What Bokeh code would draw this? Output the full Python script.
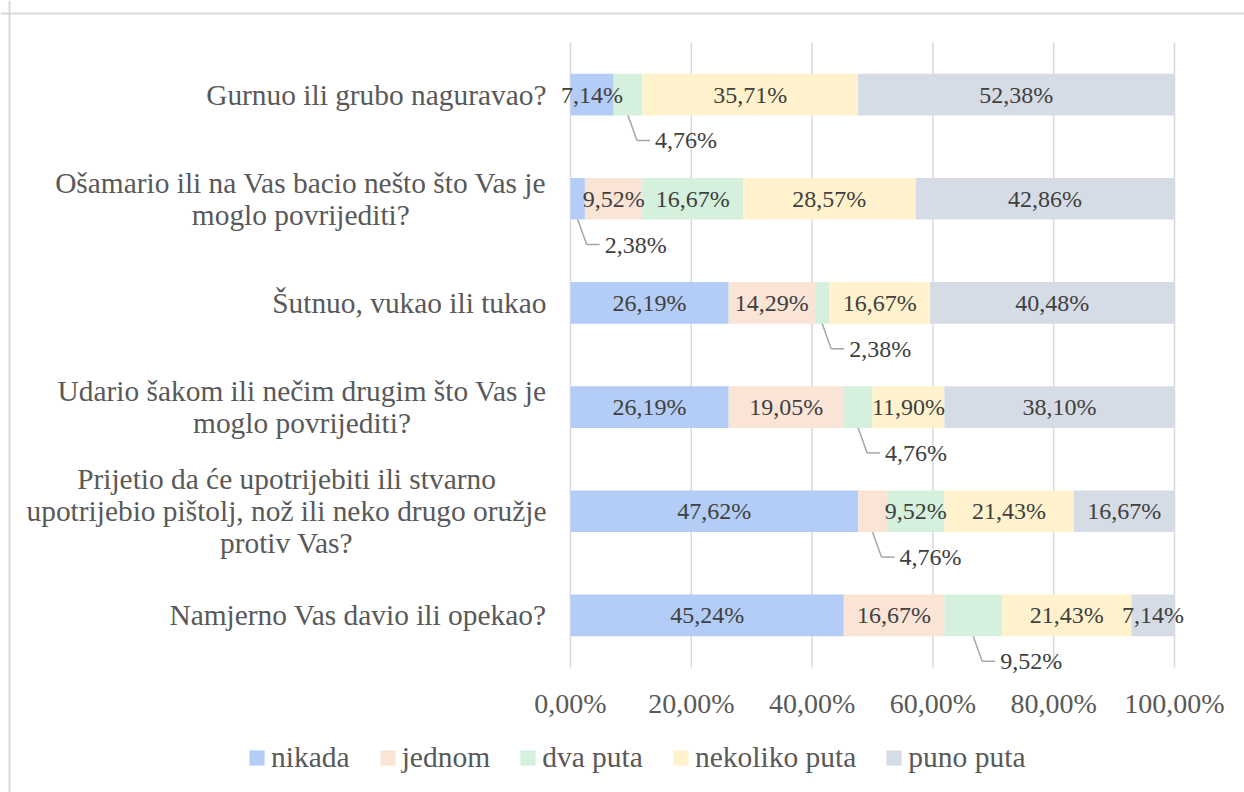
from bokeh.plotting import figure
from bokeh.models import Range1d, ColumnDataSource, Legend, LegendItem, Span
from bokeh.core.properties import value
from bokeh.embed import file_html
from bokeh.resources import INLINE

# ---------------- data ----------------
questions = [
    "Gurnuo ili grubo naguravao?",
    "Ošamario ili na Vas bacio nešto što Vas je\nmoglo povrijediti?",
    "Šutnuo, vukao ili tukao",
    "Udario šakom ili nečim drugim što Vas je\nmoglo povrijediti?",
    "Prijetio da će upotrijebiti ili stvarno\nupotrijebio pištolj, nož ili neko drugo oružje\nprotiv Vas?",
    "Namjerno Vas davio ili opekao?",
]
series = ["nikada", "jednom", "dva puta", "nekoliko puta", "puno puta"]
nikada = [7.14, 2.38, 26.19, 26.19, 47.62, 45.24]
jednom = [0.00, 9.52, 14.29, 19.05, 4.76, 16.67]
dva_puta = [4.76, 16.67, 2.38, 4.76, 9.52, 9.52]
nekoliko_puta = [35.71, 28.57, 16.67, 11.90, 21.43, 21.43]
puno_puta = [52.38, 42.86, 40.48, 38.10, 16.67, 7.14]
tick_values = [0, 20, 40, 60, 80, 100]
tick_labels = ["0,00%", "20,00%", "40,00%", "60,00%", "80,00%", "100,00%"]
# labels drawn outside the bar with a leader line: (question index, series)
callouts = [(0, "dva puta"), (1, "nikada"), (2, "dva puta"),
            (3, "dva puta"), (4, "jednom"), (5, "dva puta")]

# ---------------- style / layout ----------------
colors = ["#B4CDF7", "#FAE4D6", "#D5F0DC", "#FFF2CC", "#D6DCE5"]
FONT_NAME = "Liberation Serif"
FONT = value(FONT_NAME)
W, H = 1244, 792
PX_PER_PCT = 6.04          # horizontal pixels per percent
PX_PER_ROW = 104.17        # vertical pixels per category
PXX = 1.0 / PX_PER_PCT
PXY = 1.0 / PX_PER_ROW
n = len(questions)
X_START = -570 * PXX
X_END = X_START + W * PXX
Y_END = (n - 1) + 94.1 * PXY
Y_START = Y_END - H * PXY

rows = [n - 1 - i for i in range(n)]
values = [nikada, jednom, dva_puta, nekoliko_puta, puno_puta]
data = {"row": rows, "question": questions}
for s, v in zip(series, values):
    data[s] = v
src = ColumnDataSource(data)

p = figure(width=W, height=H, x_range=Range1d(X_START, X_END),
           y_range=Range1d(Y_START, Y_END), x_axis_type=None, y_axis_type=None,
           toolbar_location=None, output_backend="svg", min_border=0,
           outline_line_color=None)
p.background_fill_color = "white"

# vertical grid lines
p.segment(x0=tick_values, y0=[-0.5] * len(tick_values), x1=tick_values,
          y1=[n - 0.5] * len(tick_values), line_color="#D9D9D9", line_width=1.5)

# stacked bars
renderers = p.hbar_stack(series, y="row", height=0.4, color=colors,
                         line_color=None, source=src)

# data labels
lab_x, lab_y, lab_t = [], [], []
co_x, co_y, co_t = [], [], []
d_x0, d_y0, d_x1, d_y1 = [], [], [], []
h_x0, h_x1, h_y = [], [], []
for i in range(n):
    left = 0.0
    for s, vals in zip(series, values):
        v = vals[i]
        cx = left + v / 2
        left += v
        if v <= 0:
            continue
        txt = f"{v:.2f}".replace(".", ",") + "%"
        r = rows[i]
        if (i, s) in callouts:
            yb = r - 0.2
            ym = yb - 25 * PXY
            d_x0.append(cx); d_y0.append(yb); d_x1.append(cx + 9 * PXX); d_y1.append(ym)
            h_x0.append(cx + 9 * PXX); h_x1.append(cx + 22 * PXX); h_y.append(ym)
            co_x.append(cx + 27 * PXX); co_y.append(ym); co_t.append(txt)
        else:
            lab_x.append(cx); lab_y.append(r); lab_t.append(txt)

p.text(x=lab_x, y=lab_y, text=lab_t, text_font=FONT, text_font_size="24px",
       text_color="#404040", text_align="center", text_baseline="middle")
p.segment(x0=d_x0, y0=d_y0, x1=d_x1, y1=d_y1, line_color="#A6A6A6", line_width=1.5)
p.segment(x0=h_x0, y0=h_y, x1=h_x1, y1=h_y, line_color="#A6A6A6", line_width=1.5)
p.text(x=co_x, y=co_y, text=co_t, text_font=FONT, text_font_size="24px",
       text_color="#404040", text_align="left", text_baseline="middle")

# category labels
p.text(x=[-24 * PXX] * n, y=rows, text=questions, text_font=FONT,
       text_font_size="29.4px", text_color="#595959", text_align="center",
       anchor="center_right", text_baseline="middle", text_line_height=1.0)

# x tick labels
p.text(x=tick_values, y=[-0.5 - 36 * PXY] * len(tick_values), text=tick_labels,
       text_font=FONT, text_font_size="28px", text_color="#595959",
       text_align="center", text_baseline="middle")

# chart border (left and top edges)
p.add_layout(Span(location=X_START + 9 * PXX, dimension="height",
                  line_color="#D9D9D9", line_width=2))
p.add_layout(Span(location=Y_END - 13 * PXY, dimension="width",
                  line_color="#D9D9D9", line_width=2))

legend = Legend(items=[LegendItem(label=s, renderers=[r]) for s, r in zip(series, renderers)],
                orientation="horizontal", location=(247, 18), padding=0, margin=0,
                spacing=28, label_standoff=5, glyph_width=19, glyph_height=19,
                label_text_font=FONT_NAME, label_text_font_size="29.5px",
                label_text_color="#595959", background_fill_alpha=0,
                border_line_color=None)
p.add_layout(legend)

open("out.html", "w").write(file_html(p, INLINE))
